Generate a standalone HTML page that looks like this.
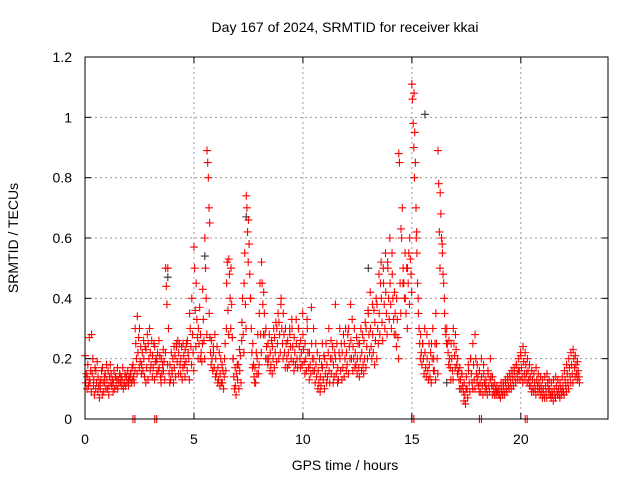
<!DOCTYPE html>
<html><head><meta charset="utf-8"><style>
html,body{margin:0;padding:0;background:#fff;}
svg{display:block;font-family:"Liberation Sans",sans-serif;}
</style></head><body>
<svg id="chart" width="640" height="480" viewBox="0 0 640 480">
<rect x="0" y="0" width="640" height="480" fill="#fff"/>
<text x="345" y="32" font-size="14" text-anchor="middle">Day 167 of 2024, SRMTID for receiver kkai</text>
<g id="grid"></g>
<g id="marks"></g>
<rect x="85" y="57" width="523" height="362" fill="none" stroke="#000" stroke-width="1"/>
<g id="axes"></g>
<text x="345" y="470" font-size="14" text-anchor="middle">GPS time / hours</text>
<text x="18" y="238" font-size="14" text-anchor="middle" transform="rotate(-90 18 238)">SRMTID / TECUs</text>
</svg>
<script>
const xTicks=[0,5,10,15,20];
const yTicks=[0,0.2,0.4,0.6,0.8,1.0,1.2];
const yTickLabels=["0","0.2","0.4","0.6","0.8","1","1.2"];
const times=[0.0,0.1,0.2,0.3,0.4,0.5,0.6,0.7,0.8,0.9,1.0,1.1,1.2,1.3,1.4,1.5,1.6,1.7,1.8,1.9,2.0,2.1,2.2,2.3,2.4,2.5,2.6,2.7,2.8,2.9,3.0,3.1,3.2,3.3,3.4,3.5,3.6,3.7,3.8,3.9,4.0,4.1,4.2,4.3,4.4,4.5,4.6,4.7,4.8,4.9,5.0,5.1,5.2,5.3,5.4,5.5,5.6,5.7,5.8,5.9,6.0,6.1,6.2,6.3,6.4,6.5,6.6,6.7,6.8,6.9,7.0,7.1,7.2,7.3,7.4,7.5,7.6,7.7,7.8,7.9,8.0,8.1,8.2,8.3,8.4,8.5,8.6,8.7,8.8,8.9,9.0,9.1,9.2,9.3,9.4,9.5,9.6,9.7,9.8,9.9,10.0,10.1,10.2,10.3,10.4,10.5,10.6,10.7,10.8,10.9,11.0,11.1,11.2,11.3,11.4,11.5,11.6,11.7,11.8,11.9,12.0,12.1,12.2,12.3,12.4,12.5,12.6,12.7,12.8,12.9,13.0,13.1,13.2,13.3,13.4,13.5,13.6,13.7,13.8,13.9,14.0,14.1,14.2,14.3,14.4,14.5,14.6,14.7,14.8,14.9,15.0,15.1,15.2,15.3,15.4,15.5,15.6,15.7,15.8,15.9,16.0,16.1,16.2,16.3,16.4,16.5,16.6,16.7,16.8,16.9,17.0,17.1,17.2,17.3,17.4,17.5,17.6,17.7,17.8,17.9,18.0,18.1,18.2,18.3,18.4,18.5,18.6,18.7,18.8,18.9,19.0,19.1,19.2,19.3,19.4,19.5,19.6,19.7,19.8,19.9,20.0,20.1,20.2,20.3,20.4,20.5,20.6,20.7,20.8,20.9,21.0,21.1,21.2,21.3,21.4,21.5,21.6,21.7,21.8,21.9,22.0,22.1,22.2,22.3,22.4,22.5,22.6];
const values=[
[.21,.12,.15,.10],[.14,.18,.11,.13],[.27,.12,.16,.09],[.28,.15,.20,.11],[.13,.08,.17,.10],[.16,.12,.19,.09],[.14,.11,.07,.12],[.10,.13,.16,.08],[.17,.12,.09,.14],[.12,.15,.10,.18],
[.13,.10,.16,.08],[.11,.14,.18,.12],[.15,.11,.13,.09],[.12,.16,.10,.14],[.14,.11,.13,.17],[.10,.13,.12,.15],[.15,.12,.14,.11],[.13,.17,.10,.12],[.12,.15,.11,.14],[.14,.12,.16,.13],
[.11,.14,.13,.15],[.15,.12,.17,.13],[.18,.14,.12,.16],[.30,.25,.20,.15],[.34,.22,.27,.17],[.30,.19,.24,.15],[.18,.22,.16,.26],[.20,.14,.24,.12],[.23,.17,.28,.13],[.25,.20,.30,.16],
[.22,.18,.26,.14],[.21,.17,.25,.13],[.24,.19,.20,.15],[.19,.22,.16,.26],[.17,.21,.14,.12],[.20,.15,.18,.23],[.16,.19,.13,.22],[.50,.44,.38,.18],[.50,.30,.15,.12],[.18,.13,.22,.16],
[.15,.20,.12,.24],[.17,.21,.14,.25],[.24,.19,.26,.15],[.22,.25,.18,.15],[.20,.24,.13,.17],[.25,.21,.18,.14],[.23,.19,.25,.16],[.26,.22,.20,.13],[.35,.30,.24,.18],[.40,.28,.22,.16],
[.57,.50,.36,.24],[.45,.33,.27,.20],[.30,.25,.37,.20],[.28,.22,.19,.25],[.43,.33,.26,.20],[.60,.50,.40,.28],[.89,.85,.80,.70,.65],[.35,.27,.22,.18],[.26,.20,.16,.24],[.22,.17,.28,.14],
[.20,.15,.24,.12],[.17,.13,.22,.11],[.15,.20,.12,.18],[.12,.16,.10,.14],[.20,.25,.16,.30],[.45,.52,.36,.28],[.53,.48,.40,.30],[.50,.38,.27,.20],[.20,.14,.10,.17],[.11,.08,.15,.18],
[.13,.18,.10,.23],[.16,.21,.12,.26],[.32,.40,.28,.22],[.45,.55,.38,.30],[.74,.70,.62,.52],[.66,.58,.48,.40],[.40,.30,.22,.17],[.25,.18,.14,.12],[.17,.12,.22,.15],[.20,.28,.15,.18],
[.35,.45,.28,.22],[.52,.45,.38,.28],[.42,.35,.28,.20],[.30,.24,.20,.18],[.25,.20,.28,.16],[.22,.18,.26,.15],[.24,.20,.30,.17],[.27,.22,.32,.19],[.30,.25,.35,.20],[.32,.28,.22,.38],
[.40,.30,.25,.20],[.35,.28,.22,.17],[.30,.25,.20,.17],[.26,.22,.18,.30],[.28,.24,.20,.33],[.30,.24,.19,.16],[.27,.22,.18,.33],[.25,.20,.17,.30],[.30,.24,.20,.17],[.26,.22,.18,.35],
[.28,.23,.19,.15],[.25,.20,.16,.33],[.30,.22,.17,.13],[.22,.18,.15,.37],[.25,.20,.16,.30],[.20,.16,.12,.25],[.18,.14,.22,.10],[.16,.12,.20,.09],[.14,.11,.18,.25],[.17,.13,.21,.10],
[.20,.15,.25,.12],[.18,.14,.22,.30],[.16,.12,.20,.26],[.15,.20,.24,.12],[.18,.14,.22,.38],[.20,.15,.25,.12],[.17,.13,.22,.30],[.20,.16,.25,.13],[.22,.17,.28,.14],[.25,.20,.30,.16],
[.22,.18,.28,.15],[.30,.24,.20,.38],[.26,.20,.33,.16],[.24,.20,.30,.17],[.22,.18,.27,.15],[.20,.25,.17,.14],[.25,.20,.30,.16],[.22,.28,.18,.15],[.26,.20,.32,.17],[.30,.24,.20,.36],
[.35,.28,.22,.42],[.30,.24,.20,.38],[.28,.22,.36,.18],[.32,.26,.40,.20],[.38,.30,.25,.48],[.35,.28,.45,.52],[.40,.32,.26,.50],[.45,.38,.30,.55],[.42,.35,.28,.52],[.50,.40,.33,.60],
[.45,.38,.30,.55],[.48,.40,.33,.28],[.42,.35,.28,.24],[.40,.33,.27,.20],[.88,.85,.45,.35],[.63,.60,.70,.45],[.50,.45,.40,.55],[.40,.35,.50,.30],[.50,.45,.55,.38],[.60,.53,.48,.42],
[1.11,1.06,.98,.90,.80],[1.08,.95,.85,.70,.62],[.60,.55,.45,.40],[.35,.30,.25,.20],[.28,.22,.18,.25],[.25,.20,.15,.30],[.22,.17,.14,.28],[.20,.16,.13,.25],[.18,.14,.22,.12],[.25,.20,.30,.16],
[.20,.16,.25,.13],[.35,.25,.20,.15],[.89,.78,.62,.50],[.75,.68,.60,.58],[.55,.48,.45,.40],[.35,.30,.28,.25],[.30,.25,.22,.18],[.26,.20,.17,.13],[.25,.20,.16,.13],[.30,.25,.21,.17],
[.28,.23,.18,.15],[.20,.16,.13,.10],[.17,.13,.10,.15],[.15,.11,.09,.06],[.12,.08,.05,.10],[.14,.10,.07,.18],[.16,.12,.09,.20],[.20,.15,.12,.10],[.25,.18,.13,.10],[.28,.20,.15,.12],
[.18,.14,.11,.09],[.16,.12,.09,.20],[.14,.11,.08,.18],[.15,.12,.09,.11],[.13,.10,.08,.16],[.15,.11,.09,.13],[.20,.14,.11,.08],[.14,.11,.09,.08],[.12,.10,.08,.09],[.11,.09,.08,.10],
[.10,.08,.07,.12],[.10,.09,.08,.12],[.11,.09,.08,.13],[.12,.10,.09,.14],[.13,.11,.10,.15],[.14,.12,.10,.16],[.15,.13,.11,.17],[.16,.14,.12,.18],[.18,.15,.13,.16],[.20,.16,.13,.22],
[.21,.17,.14,.12],[.24,.19,.15,.13],[.22,.18,.15,.12],[.20,.16,.13,.11],[.18,.14,.11,.09],[.16,.13,.10,.09],[.15,.12,.10,.08],[.17,.13,.11,.09],[.15,.12,.10,.08],[.14,.11,.09,.07],
[.13,.10,.08,.07],[.14,.11,.09,.07],[.15,.12,.10,.08],[.13,.10,.08,.07],[.12,.09,.08,.06],[.13,.10,.08,.07],[.14,.11,.09,.08],[.13,.10,.08,.07],[.12,.10,.08,.09],[.14,.11,.09,.08],
[.16,.13,.11,.09],[.18,.15,.12,.10],[.20,.17,.14,.12],[.22,.18,.15,.12],[.23,.20,.17,.14],[.21,.18,.15,.13],[.19,.16,.14,.12]
];
const zeroTimes=[2.2,3.2,15.0,18.1,20.2];
const grayTimes=[3.8,5.5,15.6,15.0,7.4,13.0,16.6];
const grayValues=[0.47,0.54,1.01,0.0,0.67,0.5,0.12];

const NS="http://www.w3.org/2000/svg";
const X0=85,X1=608,Y0=419,Y1=57,XMAX=24,YMAX=1.2;
function sx(v){return X0+v/XMAX*(X1-X0);}
function sy(v){return Y0-v/YMAX*(Y0-Y1);}
const grid=document.getElementById('grid'),axes=document.getElementById('axes'),marks=document.getElementById('marks');
function mk(tag,attrs,parent){const e=document.createElementNS(NS,tag);for(const k in attrs)e.setAttribute(k,attrs[k]);parent.appendChild(e);return e;}
xTicks.forEach(t=>{
  const x=sx(t);
  if(t>0){const g=mk('line',{x1:x,x2:x,y1:Y1,y2:Y0,stroke:'#999','stroke-dasharray':'2,3','stroke-width':1},grid);
  
  }
  const a=mk('line',{x1:x,x2:x,y1:Y0,y2:Y0-6,stroke:'#000'},axes);
  
  
  const b=mk('line',{x1:x,x2:x,y1:Y1,y2:Y1+6,stroke:'#000'},axes);
  
  
  const l=mk('text',{x:x,y:444,'font-size':14,'text-anchor':'middle'},axes);
  l.textContent=String(t);
  
  
});
yTicks.forEach((t,i)=>{
  const y=sy(t);
  if(t>0&&t<YMAX){const g=mk('line',{x1:X0,x2:X1,y1:y,y2:y,stroke:'#999','stroke-dasharray':'2,3','stroke-width':1},grid);
  
  }
  const a=mk('line',{x1:X0,x2:X0+6,y1:y,y2:y,stroke:'#000'},axes);
  
  
  const b=mk('line',{x1:X1,x2:X1-6,y1:y,y2:y,stroke:'#000'},axes);
  
  
  const l=mk('text',{x:72,y:y+5,'font-size':14,'text-anchor':'end'},axes);
  l.textContent=yTickLabels[i];
  
  
});
function plus(x,y,color,name){
  const p=mk('path',{d:`M${x-4},${y}h8M${x},${y-4}v8`,stroke:color,'stroke-width':1.1,fill:'none'},marks);
  
  
}
grayTimes.forEach((t,i)=>plus(sx(t),sy(grayValues[i]),'#333','gray-point'));
times.forEach((t,i)=>{values[i].forEach((v,j)=>{plus(sx(t+j*0.03),sy(v),'#f00','srmtid-point');});});
zeroTimes.forEach(t=>{plus(sx(t),sy(0),'#f00','zero-point');plus(sx(t)+2,sy(0),'#f00','zero-point');});
</script>
</body></html>
